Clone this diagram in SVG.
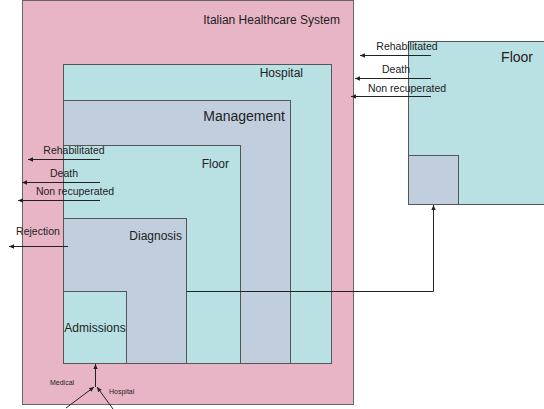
<svg xmlns="http://www.w3.org/2000/svg" width="544" height="409" viewBox="0 0 544 409">
<style>
.pink{fill:#E8B5C6;stroke:#666;stroke-width:1}
.cyan{fill:#B9E0E3;stroke:#555;stroke-width:1}
.gray{fill:#C0CEDD;stroke:#555;stroke-width:1}
text{font-family:"Liberation Sans",Arial,sans-serif;fill:#222}
.t12{font-size:12px}
.t14{font-size:14px}
.t11{font-size:10.5px}
.t7{font-size:7px}
.ln{stroke:#222;stroke-width:1;fill:none}
</style>
<defs>
<marker id="ah" markerWidth="6" markerHeight="6" refX="5" refY="3" orient="auto" markerUnits="userSpaceOnUse">
<path d="M0,0.8 L5,3 L0,5.2 Z" fill="#222"/>
</marker>
</defs>
<rect width="544" height="409" fill="#fff"/>
<g id="italian-healthcare-system">
<rect class="pink" x="22.5" y="0.5" width="331" height="404"/>
<text class="t12" x="340" y="24" text-anchor="end">Italian Healthcare System</text>
</g>
<g id="hospital">
<rect class="cyan" x="63.5" y="64.5" width="268" height="299"/>
<text class="t12" x="303" y="77" text-anchor="end">Hospital</text>
</g>
<g id="management">
<rect class="gray" x="63.5" y="100.5" width="227" height="263"/>
<text class="t14" x="285" y="121" text-anchor="end">Management</text>
</g>
<g id="floor-left">
<rect class="cyan" x="63.5" y="145.5" width="177" height="218"/>
<text class="t12" x="229" y="168" text-anchor="end">Floor</text>
</g>
<g id="diagnosis">
<rect class="gray" x="63.5" y="218.5" width="123" height="145"/>
<text class="t12" x="182" y="240" text-anchor="end">Diagnosis</text>
</g>
<g id="admissions">
<rect class="cyan" x="63.5" y="291.5" width="63" height="72"/>
<text class="t12" x="95" y="332" text-anchor="middle">Admissions</text>
</g>
<g id="floor-right">
<rect class="cyan" x="408.5" y="41.5" width="140" height="163"/>
<rect class="gray" x="408.5" y="155.5" width="50" height="49"/>
<text class="t14" x="533" y="62" text-anchor="end">Floor</text>
</g>
<g id="connectors">
<path class="ln" d="M186.5,291.5 H433.5 V205" marker-end="url(#ah)"/>
<line class="ln" x1="431" y1="55.5" x2="360" y2="55.5" marker-end="url(#ah)"/>
<line class="ln" x1="431" y1="78.5" x2="355" y2="78.5" marker-end="url(#ah)"/>
<line class="ln" x1="431" y1="96.5" x2="351" y2="96.5" marker-end="url(#ah)"/>
<line class="ln" x1="100" y1="159.5" x2="28" y2="159.5" marker-end="url(#ah)"/>
<line class="ln" x1="100" y1="182.5" x2="22" y2="182.5" marker-end="url(#ah)"/>
<line class="ln" x1="100" y1="200.5" x2="18" y2="200.5" marker-end="url(#ah)"/>
<line class="ln" x1="68" y1="246.5" x2="9" y2="246.5" marker-end="url(#ah)"/>
<line class="ln" x1="95.5" y1="387" x2="95.5" y2="364" marker-end="url(#ah)"/>
<line class="ln" x1="66" y1="408" x2="94" y2="387" marker-end="url(#ah)"/>
<line class="ln" x1="113" y1="409" x2="97" y2="387" marker-end="url(#ah)"/>
<text class="t11" x="407" y="50" text-anchor="middle">Rehabilitated</text>
<text class="t11" x="396" y="73" text-anchor="middle">Death</text>
<text class="t11" x="407" y="92" text-anchor="middle">Non recuperated</text>
<text class="t11" x="74" y="154" text-anchor="middle">Rehabilitated</text>
<text class="t11" x="64" y="177" text-anchor="middle">Death</text>
<text class="t11" x="75" y="195" text-anchor="middle">Non recuperated</text>
<text class="t11" x="38" y="235" text-anchor="middle">Rejection</text>
<text class="t7" x="50" y="385">Medical</text>
<text class="t7" x="109" y="394">Hospital</text>
</g>
</svg>
